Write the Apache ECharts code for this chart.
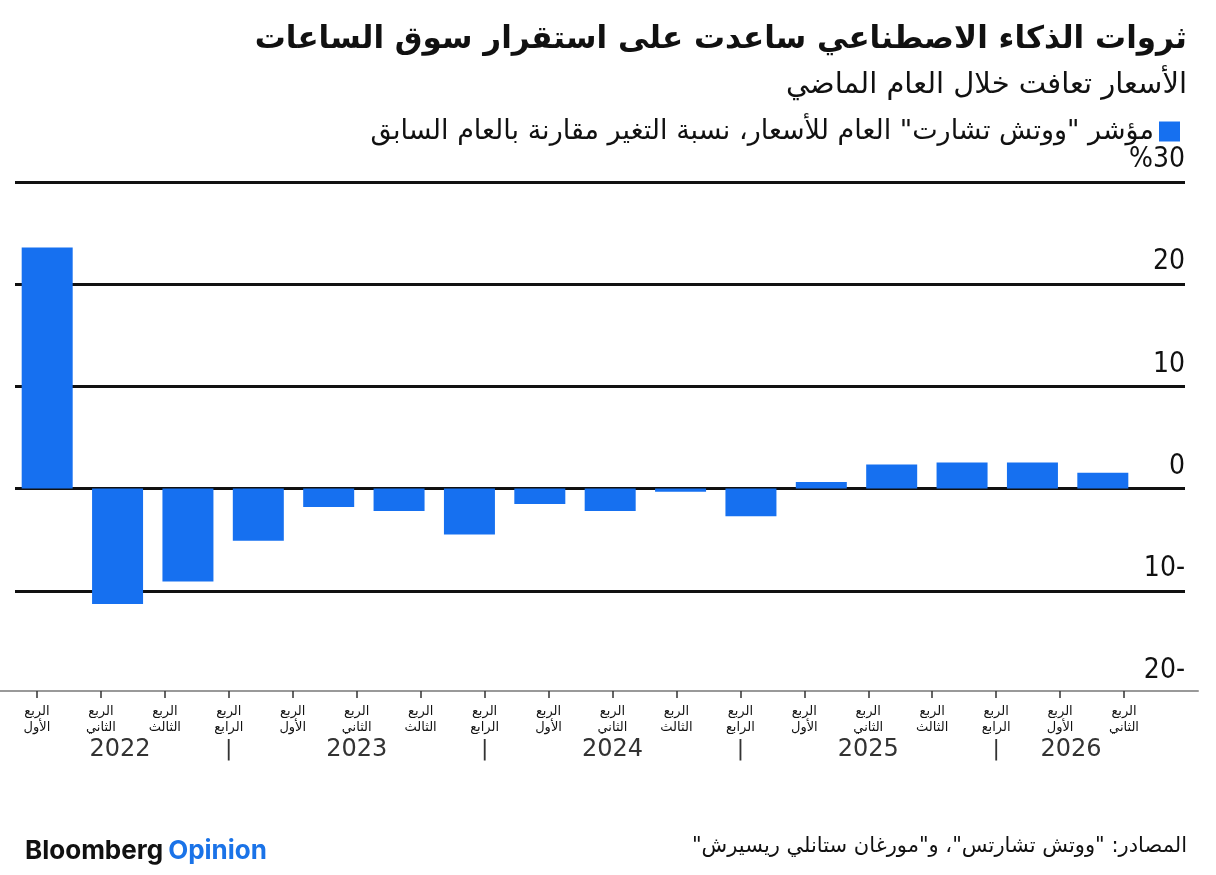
<!DOCTYPE html>
<html>
<head>
<meta charset="utf-8">
<script src="https://cdn.jsdelivr.net/npm/echarts@6/dist/echarts.min.js"></script>
<style>
    html, body { margin: 0; padding: 0; background: #fff; }
    #chart { width: 1216px; height: 875px; }
</style>
</head>
<body>
<div id="chart"></div>
<script>
// quarters with a bar (Q1 2022 .. Q4 2025)
var barQuarters = ['2022Q1', '2022Q2', '2022Q3', '2022Q4', '2023Q1', '2023Q2', '2023Q3', '2023Q4',
    '2024Q1', '2024Q2', '2024Q3', '2024Q4', '2025Q1', '2025Q2', '2025Q3', '2025Q4'];
// watch chart price index, % change year on year
var priceChange = [23.6, -11.3, -9.1, -5.1, -1.8, -2.2, -4.5, -1.5, -2.2, -0.3, -2.7, 0.65, 2.35, 2.55, 2.55, 1.55];

// axis tick labels (Q1 2022 .. Q2 2026)
var quarterLabels = ['الربع\nالأول', 'الربع\nالثاني', 'الربع\nالثالث', 'الربع\nالرابع',
    'الربع\nالأول', 'الربع\nالثاني', 'الربع\nالثالث', 'الربع\nالرابع',
    'الربع\nالأول', 'الربع\nالثاني', 'الربع\nالثالث', 'الربع\nالرابع',
    'الربع\nالأول', 'الربع\nالثاني', 'الربع\nالثالث', 'الربع\nالرابع',
    'الربع\nالأول', 'الربع\nالثاني'];
var yearLabels = ['', '2022', '', '|', '', '2023', '', '|', '', '2024', '', '|', '', '2025', '', '|', '2026', ''];
var yMin = -20, yMax = 30, yStep = 10;

var titleText = 'ثروات الذكاء الاصطناعي ساعدت على استقرار سوق الساعات';
var subText = 'الأسعار تعافت خلال العام الماضي';
var seriesName = 'مؤشر "ووتش تشارت" العام للأسعار، نسبة التغير مقارنة بالعام السابق';
var sourceText = 'المصادر: "ووتش تشارتس"، و"مورغان ستانلي ريسيرش"\u200F';

var arabicFont = 'DejaVu Sans';
var numFont = '"DejaVu Sans Condensed", "DejaVu Sans"';
var blue = '#1670F0';

var chart = echarts.init(document.getElementById('chart'));

var option = {
    backgroundColor: '#fff',
    animation: false,
    title: [
        {
            text: titleText,
            right: 24,
            top: 19,
            textStyle: {
                fontFamily: arabicFont,
                fontSize: 31,
                fontWeight: 'bold',
                color: '#111'
            }
        },
        {
            text: subText,
            right: 24,
            top: 66,
            textStyle: {
                fontFamily: arabicFont,
                fontSize: 29,
                fontWeight: 'normal',
                color: '#111'
            }
        }
    ],
    legend: {
        right: 31,
        top: 113,
        align: 'right',
        icon: 'rect',
        itemWidth: 21,
        itemHeight: 20,
        itemGap: 6,
        textStyle: {
            fontFamily: arabicFont,
            fontSize: 27,
            color: '#111'
        },
        data: [seriesName]
    },
    grid: [
        // grid lines and value labels
        { left: 15, right: 31, top: 182, bottom: 182 },
        // bars
        { left: 12, right: 78, top: 182, bottom: 182 },
        // quarter / year labels
        { left: 5, right: 60, top: 182, bottom: 184 },
        // grey base line
        { left: 0, right: 18, top: 182, bottom: 184 }
    ],
    xAxis: [
        { gridIndex: 0, type: 'category', data: barQuarters, show: false },
        { gridIndex: 1, type: 'category', data: barQuarters, show: false },
        {
            gridIndex: 2,
            type: 'category',
            data: quarterLabels,
            position: 'bottom',
            axisLine: { show: false, onZero: false },
            axisTick: {
                show: true,
                alignWithLabel: true,
                length: 7,
                lineStyle: { color: '#333', width: 1.5 }
            },
            axisLabel: {
                interval: 0,
                margin: 13,
                fontFamily: arabicFont,
                fontSize: 13,
                lineHeight: 16,
                color: '#111'
            }
        },
        {
            gridIndex: 2,
            type: 'category',
            data: yearLabels,
            position: 'bottom',
            axisLine: { show: false, onZero: false },
            axisTick: { show: false },
            axisLabel: {
                interval: 0,
                margin: 47,
                fontFamily: arabicFont,
                fontSize: 24,
                color: '#333',
                formatter: function (v) {
                    if (v === '') return '';
                    if (v === '|') return '{sep|' + v + '}';
                    if (v === '2022') return '{y22|' + v + '}';
                    if (v === '2026') return '{y26|' + v + '}';
                    return v;
                },
                rich: {
                    sep: { fontSize: 22, color: '#333', fontFamily: arabicFont },
                    y22: { fontSize: 24, color: '#333', fontFamily: arabicFont, padding: [0, 0, 0, 38] },
                    y26: { fontSize: 24, color: '#333', fontFamily: arabicFont, padding: [0, 0, 0, 22] }
                }
            }
        },
        {
            gridIndex: 3,
            type: 'category',
            data: quarterLabels,
            axisLine: { show: true, onZero: false, lineStyle: { color: '#999', width: 2 } },
            axisTick: { show: false },
            axisLabel: { show: false }
        }
    ],
    yAxis: [
        {
            gridIndex: 0,
            type: 'value',
            position: 'right',
            min: yMin,
            max: yMax,
            interval: yStep,
            axisLine: { show: false },
            axisTick: { show: false },
            splitLine: {
                show: true,
                showMinLine: false,
                lineStyle: { color: '#111', width: 3 }
            },
            axisLabel: {
                inside: true,
                margin: 0,
                verticalAlign: 'bottom',
                padding: [0, 0, 8, 0],
                fontFamily: numFont,
                fontSize: 28,
                color: '#111',
                formatter: function (v) {
                    if (v === yMax) return '%' + v;
                    if (v < 0) return (-v) + '-';
                    return String(v);
                }
            }
        },
        { gridIndex: 1, type: 'value', min: yMin, max: yMax, interval: yStep, show: false },
        { gridIndex: 2, type: 'value', min: yMin, max: yMax, show: false },
        { gridIndex: 3, type: 'value', min: yMin, max: yMax, show: false }
    ],
    series: [
        {
            name: seriesName,
            type: 'bar',
            xAxisIndex: 1,
            yAxisIndex: 1,
            barWidth: 51,
            data: priceChange,
            itemStyle: { color: blue }
        }
    ],
    graphic: [
        {
            type: 'text',
            left: 25,
            top: 838,
            style: {
                text: '{b|Bloomberg}{o|Opinion}',
                rich: {
                    b: { fontFamily: 'Inter', fontWeight: 'bold', fontSize: 26, fill: '#111', padding: [0, 5, 0, 0] },
                    o: { fontFamily: 'Inter', fontWeight: 'bold', fontSize: 26, fill: '#1A73E8' }
                }
            }
        },
        {
            type: 'text',
            right: 29,
            top: 836,
            style: {
                text: sourceText,
                fontFamily: arabicFont,
                fontSize: 21,
                fill: '#111'
            }
        }
    ]
};

chart.setOption(option);
</script>
</body>
</html>
